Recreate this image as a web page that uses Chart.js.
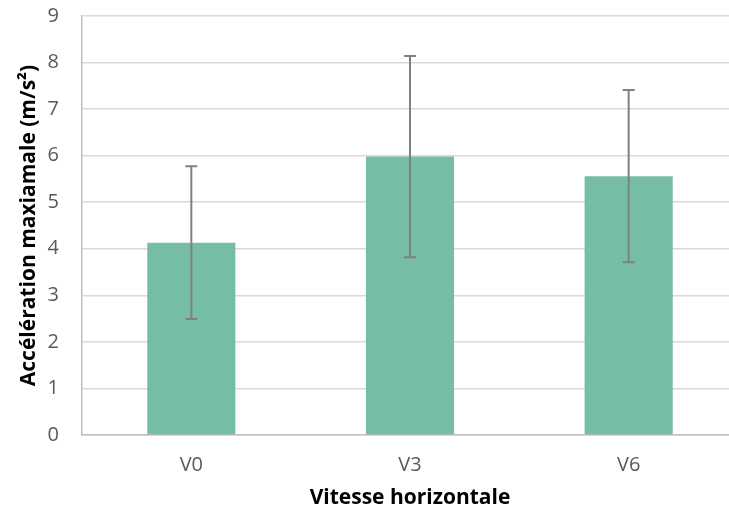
<!DOCTYPE html>
<html>
<head>
<meta charset="utf-8">
<script src="https://cdn.jsdelivr.net/npm/chart.js@4"></script>
<style>
  html, body { margin: 0; padding: 0; background: #fff; overflow: hidden; }
  #wrap { width: 738px; height: 519px; }
</style>
</head>
<body>
<div id="wrap"><canvas id="myChart" width="738" height="519"></canvas></div>
<script>
const categories = ['V0', 'V3', 'V6'];
const means = [4.13, 5.98, 5.56];
const sd = [1.64, 2.16, 1.85];
const yTicks = [0, 1, 2, 3, 4, 5, 6, 7, 8, 9];

const FONT = "'Open Sans', 'Liberation Sans', sans-serif";

// draws the error bars from the y scale
const errorBars = {
	id: 'errorBars',
	afterDatasetsDraw(chart) {
		const ctx = chart.ctx;
		const y = chart.scales.y;
		const meta = chart.getDatasetMeta(0);
		ctx.save();
		ctx.strokeStyle = '#808080';
		ctx.lineWidth = 2;
		meta.data.forEach(function(bar, i) {
			const top = y.getPixelForValue(means[i] + sd[i]);
			const bot = y.getPixelForValue(means[i] - sd[i]);
			ctx.beginPath();
			ctx.moveTo(bar.x, top);
			ctx.lineTo(bar.x, bot);
			ctx.moveTo(bar.x - 6, top);
			ctx.lineTo(bar.x + 6, top);
			ctx.moveTo(bar.x - 6, bot);
			ctx.lineTo(bar.x + 6, bot);
			ctx.stroke();
		});
		ctx.restore();
	}
};

const ctx = document.getElementById('myChart').getContext('2d');
new Chart(ctx, {
	type: 'bar',
	data: {
		labels: categories,
		datasets: [{
			data: means,
			backgroundColor: '#76BDA7',
			borderWidth: 0,
			categoryPercentage: 1,
			barPercentage: 0.403
		}]
	},
	options: {
		responsive: false,
		animation: false,
		layout: { padding: { top: 16, left: 0, right: 0, bottom: 0 } },
		plugins: { legend: { display: false }, tooltip: { enabled: false } },
		scales: {
			x: {
				afterFit: function(scale) { scale.height = 84; },
				grid: { display: false, drawTicks: false },
				border: { display: true, color: '#BFBFBF', width: 1.5 },
				ticks: { color: '#595959', padding: 18, font: { family: FONT, size: 20 } },
				title: {
					display: true,
					text: 'Vitesse horizontale',
					color: '#000',
					padding: { bottom: 8 },
					font: { family: FONT, size: 21, weight: 'bold' }
				}
			},
			y: {
				min: 0,
				max: 9,
				afterFit: function(scale) {
					scale.width = 82;
					scale.paddingTop = 0;
					scale.paddingBottom = 0;
				},
				afterBuildTicks: function(scale) { scale.ticks = yTicks.map(v => ({ value: v })); },
				grid: { color: '#D9D9D9', lineWidth: 1.5, drawTicks: false },
				border: { display: true, color: '#BFBFBF', width: 1.5 },
				ticks: { color: '#595959', padding: 23, font: { family: FONT, size: 20 } },
				title: {
					display: true,
					text: 'Accélération maxiamale (m/s²)',
					color: '#000',
					padding: { top: 16 },
					font: { family: FONT, size: 21, weight: 'bold' }
				}
			}
		}
	},
	plugins: [errorBars]
});
</script>
</body>
</html>
